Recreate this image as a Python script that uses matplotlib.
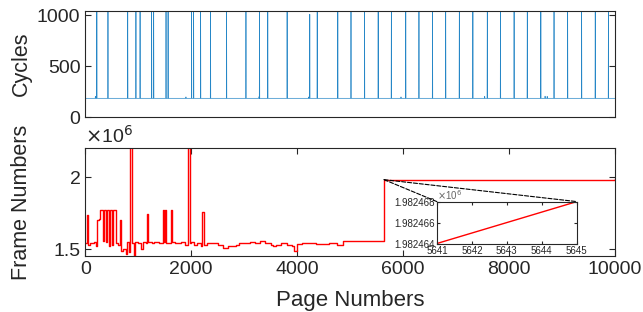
import numpy as np
import matplotlib
matplotlib.use("Agg")
import matplotlib.pyplot as plt
from matplotlib.patches import ConnectionPatch

plt.rcParams['font.family'] = ['Liberation Sans', 'DejaVu Sans']

# ---------------- data ----------------
# Top panel: cycles per page (baseline with spikes)
cycles_baseline = 186
spike_pages = [218, 428, 801, 956, 1034, 1252, 1291, 1524, 1563, 2006, 2045, 2177,
               2364, 2667, 3033, 3289, 3445, 3810, 4238, 4378, 4767, 5016, 5272,
               5529, 5778, 6050, 6299, 6555, 6804, 7061, 7317, 7589, 7838, 8095,
               8344, 8600, 8849, 9106, 9370, 9627, 9876]
spike_cycles = [1100, 1100, 1100, 1100, 1100, 1100, 1100, 1100, 1100, 1100, 1100, 1100,
                1100, 1100, 1100, 1100, 1100, 1100, 1010, 1100, 1100, 1100, 1100,
                1100, 1100, 1100, 1100, 1100, 1100, 1100, 1100, 1100, 1100, 1100,
                1100, 1100, 1100, 1100, 1100, 1100, 1100]
bump_pages = [190, 1900, 3280, 4220, 5960, 7540, 8680, 8720]
bump_cycles = [205, 200, 202, 200, 200, 205, 207, 205]

# Bottom panel: frame numbers per page (step series)
frame_pages = [0, 40, 60, 80, 120, 160, 200, 230, 260, 280, 330, 350, 390, 410, 440,
               470, 500, 530, 580, 620, 650, 680, 720, 760, 790, 830, 850, 880, 910,
               930, 1000, 1050, 1080, 1150, 1170, 1190, 1250, 1300, 1400, 1460, 1490,
               1500, 1520, 1610, 1640, 1700, 1800, 1880, 1935, 1975, 2000, 2050, 2100,
               2180, 2195, 2240, 2300, 2400, 2500, 2600, 2700, 2850, 2900, 3000, 3100,
               3200, 3300, 3400, 3500, 3550, 3600, 3700, 3800, 3900, 3940, 4000, 4100,
               4200, 4350, 4600, 4750, 4870, 5641, 5642, 5643, 5644, 5645, 10000]
frame_numbers = [1.545e6, 1.74e6, 1.53e6, 1.545e6, 1.54e6, 1.55e6, 1.52e6, 1.70e6,
                 1.71e6, 1.77e6, 1.56e6, 1.77e6, 1.55e6, 1.77e6, 1.52e6, 1.77e6,
                 1.53e6, 1.77e6, 1.54e6, 1.53e6, 1.70e6, 1.49e6, 1.50e6, 1.47e6,
                 1.55e6, 1.48e6, 2.30e6, 1.54e6, 1.45e6, 1.55e6, 1.54e6, 1.50e6,
                 1.55e6, 1.545e6, 1.745e6, 1.55e6, 1.54e6, 1.55e6, 1.545e6, 1.77e6,
                 1.55e6, 1.77e6, 1.54e6, 1.77e6, 1.55e6, 1.545e6, 1.55e6, 1.53e6,
                 2.30e6, 1.54e6, 1.55e6, 1.53e6, 1.54e6, 1.52e6, 1.755e6, 1.53e6,
                 1.54e6, 1.545e6, 1.53e6, 1.51e6, 1.525e6, 1.53e6, 1.54e6, 1.545e6,
                 1.55e6, 1.54e6, 1.555e6, 1.545e6, 1.53e6, 1.52e6, 1.53e6, 1.545e6,
                 1.53e6, 1.52e6, 1.485e6, 1.535e6, 1.545e6, 1.54e6, 1.535e6, 1.545e6,
                 1.53e6, 1.558e6, 1982464, 1982465, 1982466, 1982467, 1982468, 1986823]

# Inset (zoom) data
inset_pages = [5641, 5642, 5643, 5644, 5645]
inset_frames = [1982464, 1982465, 1982466, 1982467, 1982468]

# ---------------- build top series ----------------
ev_p = list(spike_pages) + list(bump_pages)
ev_v = list(spike_cycles) + list(bump_cycles)
order = np.argsort(ev_p)
cx, cy = [0], [cycles_baseline]
for i in order:
    p, v = ev_p[i], ev_v[i]
    cx += [p - 4, p, p + 4]
    cy += [cycles_baseline, v, cycles_baseline]
cx.append(10000)
cy.append(cycles_baseline)

# ---------------- figure ----------------
dark = (0.15, 0.15, 0.15)
blue = '#0072BD'
fig = plt.figure(figsize=(6.43, 3.12), dpi=100)

W, H = 643.0, 312.0
def pos(l, t, r, b):
    return [l / W, 1 - b / H, (r - l) / W, (b - t) / H]

ax1 = fig.add_axes(pos(85.3, 10.7, 615, 117.3))
ax2 = fig.add_axes(pos(85.3, 148.3, 615, 256))

def style(ax, fs=14, tl=4):
    for s in ax.spines.values():
        s.set_color(dark)
        s.set_linewidth(0.8)
    ax.tick_params(direction='in', length=tl, width=0.8, color=dark,
                   labelcolor=dark, labelsize=fs, top=True, right=True)

ax1.plot(cx, cy, color=blue, lw=0.5, alpha=0.85)
ax1.set_xlim(0, 10000)
ax1.set_ylim(0, 1045)
ax1.set_yticks([0, 500, 1000])
ax1.set_xticks([])
style(ax1)
ax1.set_ylabel('Cycles', fontsize=15.5, color=dark)
ax1.yaxis.set_label_coords(-0.10, 0.5)

ax2.plot(frame_pages, frame_numbers, color='red', lw=1.0, drawstyle='steps-post')
ax2.set_xlim(0, 10000)
ax2.set_ylim(1.453e6, 2.2e6)
ax2.set_yticks([1.5e6, 2.0e6])
ax2.set_yticklabels(['1.5', '2'])
ax2.set_xticks([0, 2000, 4000, 6000, 8000, 10000])
style(ax2)
ax2.set_ylabel('Frame Numbers', fontsize=15.5, color=dark)
ax2.yaxis.set_label_coords(-0.10, 0.5)
ax2.set_xlabel('Page Numbers', fontsize=16, color=dark, labelpad=9)
ax2.text(0.0, 1.015, r'$\times$10$^6$', transform=ax2.transAxes, fontsize=14,
         color=dark, ha='left', va='bottom')

# inset
axin = fig.add_axes(pos(436.9, 201.6, 576.8, 243.5))
axin.plot(inset_pages, inset_frames, color='red', lw=1.0)
axin.set_xlim(5641, 5645)
axin.set_ylim(1982464, 1982468)
axin.set_xticks(inset_pages)
axin.set_yticks([1982464, 1982466, 1982468])
axin.set_yticklabels(['1.982464', '1.982466', '1.982468'])
style(axin, fs=7.0, tl=2.5)
axin.tick_params(pad=1.5)
axin.text(0.0, 1.0, r'$\times$10$^6$', transform=axin.transAxes, fontsize=7.0,
          color=(0.4, 0.4, 0.4), ha='left', va='bottom')

for xa in (0, 1):
    con = ConnectionPatch(xyA=(inset_pages[0], inset_frames[0]), coordsA=ax2.transData,
                          xyB=(xa, 1), coordsB=axin.transAxes,
                          color='black', ls='--', lw=0.8)
    fig.add_artist(con)

fig.savefig('out.png', dpi=100)
